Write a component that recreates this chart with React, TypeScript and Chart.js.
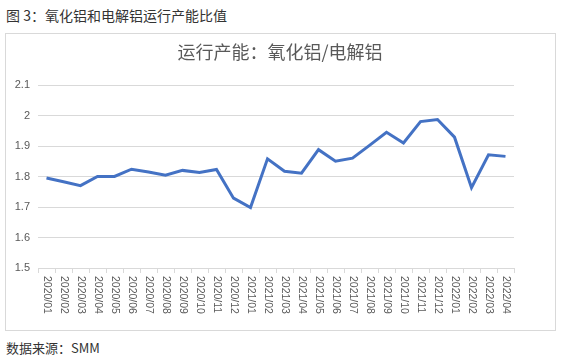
import React, { useEffect, useRef } from "react";
import { Chart, registerables } from "chart.js";

Chart.register(...registerables);

const categories = [
  "2020/01", "2020/02", "2020/03", "2020/04", "2020/05", "2020/06", "2020/07",
  "2020/08", "2020/09", "2020/10", "2020/11", "2020/12", "2021/01", "2021/02",
  "2021/03", "2021/04", "2021/05", "2021/06", "2021/07", "2021/08", "2021/09",
  "2021/10", "2021/11", "2021/12", "2022/01", "2022/02", "2022/03", "2022/04",
];

const ratioValues = [
  1.795, 1.783, 1.77, 1.8, 1.8, 1.824, 1.815, 1.804, 1.82, 1.813, 1.823, 1.729,
  1.698, 1.858, 1.817, 1.811, 1.888, 1.85, 1.86, 1.902, 1.945, 1.91, 1.98, 1.987,
  1.929, 1.763, 1.871, 1.866,
];

const yMin = 1.5;
const yMax = 2.1;
const yStep = 0.1;

const chartTitle = "运行产能：氧化铝/电解铝";
const figureTitle = "图 3：氧化铝和电解铝运行产能比值";
const sourceText = "数据来源：SMM";

const FONT = "'Liberation Sans', 'Noto Sans CJK SC', sans-serif";
const TEXT = "#595959";

export default function App() {
  const ref = useRef<HTMLCanvasElement | null>(null);

  useEffect(() => {
    if (!ref.current) return;
    const customPlugin = {
      id: "custom",
      afterDraw(chart: any) {
        const ctx = chart.ctx;
        const xs = chart.scales.x;
        ctx.save();
        ctx.fillStyle = TEXT;
        ctx.font = `18px 'Noto Sans CJK SC', sans-serif`;
        ctx.textAlign = "center";
        ctx.textBaseline = "middle";
        ctx.fillText(chartTitle, 280 - 6, 18);
        ctx.font = `10.5px ${FONT}`;
        ctx.textAlign = "left";
        ctx.textBaseline = "middle";
        categories.forEach((c, i) => {
          const x = xs.getPixelForValue(i);
          ctx.save();
          ctx.translate(x, xs.top + 8);
          ctx.rotate(Math.PI / 2);
          ctx.fillText(c, 0, 0);
          ctx.restore();
        });
        ctx.restore();
      },
    };
    const chart = new Chart(ref.current, {
      type: "line",
      data: {
        labels: categories,
        datasets: [
          {
            data: ratioValues,
            borderColor: "#4472C4",
            borderWidth: 3,
            pointRadius: 0,
            tension: 0,
            fill: false,
          },
        ],
      },
      options: {
        animation: false,
        responsive: false,
        maintainAspectRatio: false,
        layout: { padding: { top: 51, right: 41, left: 0, bottom: 0 } },
        plugins: {
          legend: { display: false },
          title: { display: false },
          tooltip: { enabled: false },
        },
        scales: {
          x: {
            type: "category",
            offset: true,
            grid: {
              offset: true,
              drawOnChartArea: false,
              drawTicks: true,
              tickLength: 5,
              color: "#d9d9d9",
            },
            border: { display: true, color: "#d9d9d9", width: 1 },
            ticks: { display: false, autoSkip: false },
            afterFit(scale: any) {
              scale.height = 62;
            },
          },
          y: {
            min: yMin,
            max: yMax,
            grid: { color: "#d9d9d9", drawTicks: false },
            border: { display: false },
            ticks: {
              stepSize: yStep,
              padding: 8,
              color: TEXT,
              font: { family: FONT, size: 11 },
              callback: (v: any) => String(Math.round(Number(v) * 10) / 10),
            },
            afterFit(scale: any) {
              scale.width = 32;
            },
          },
        },
      },
      plugins: [customPlugin],
    });
    return () => chart.destroy();
  }, []);

  return (
    <div
      style={{
        position: "fixed",
        left: 0,
        top: 0,
        width: 561,
        height: 364,
        background: "#fff",
        fontFamily: "'Noto Sans CJK SC', sans-serif",
      }}
    >
      <div
        style={{
          position: "absolute",
          left: 6,
          top: 6,
          fontSize: 14,
          color: "#333",
          lineHeight: "19px",
          whiteSpace: "nowrap",
        }}
      >
        {figureTitle}
      </div>
      <div
        style={{
          position: "absolute",
          left: 5,
          top: 33,
          width: 549,
          height: 296,
          border: "1px solid #d9d9d9",
        }}
      >
        <canvas ref={ref} width={549} height={296} style={{ display: "block" }} />
      </div>
      <div
        style={{
          position: "absolute",
          left: 6,
          top: 339,
          fontSize: 13,
          color: "#333",
          lineHeight: "18px",
          whiteSpace: "nowrap",
        }}
      >
        {sourceText}
      </div>
    </div>
  );
}
